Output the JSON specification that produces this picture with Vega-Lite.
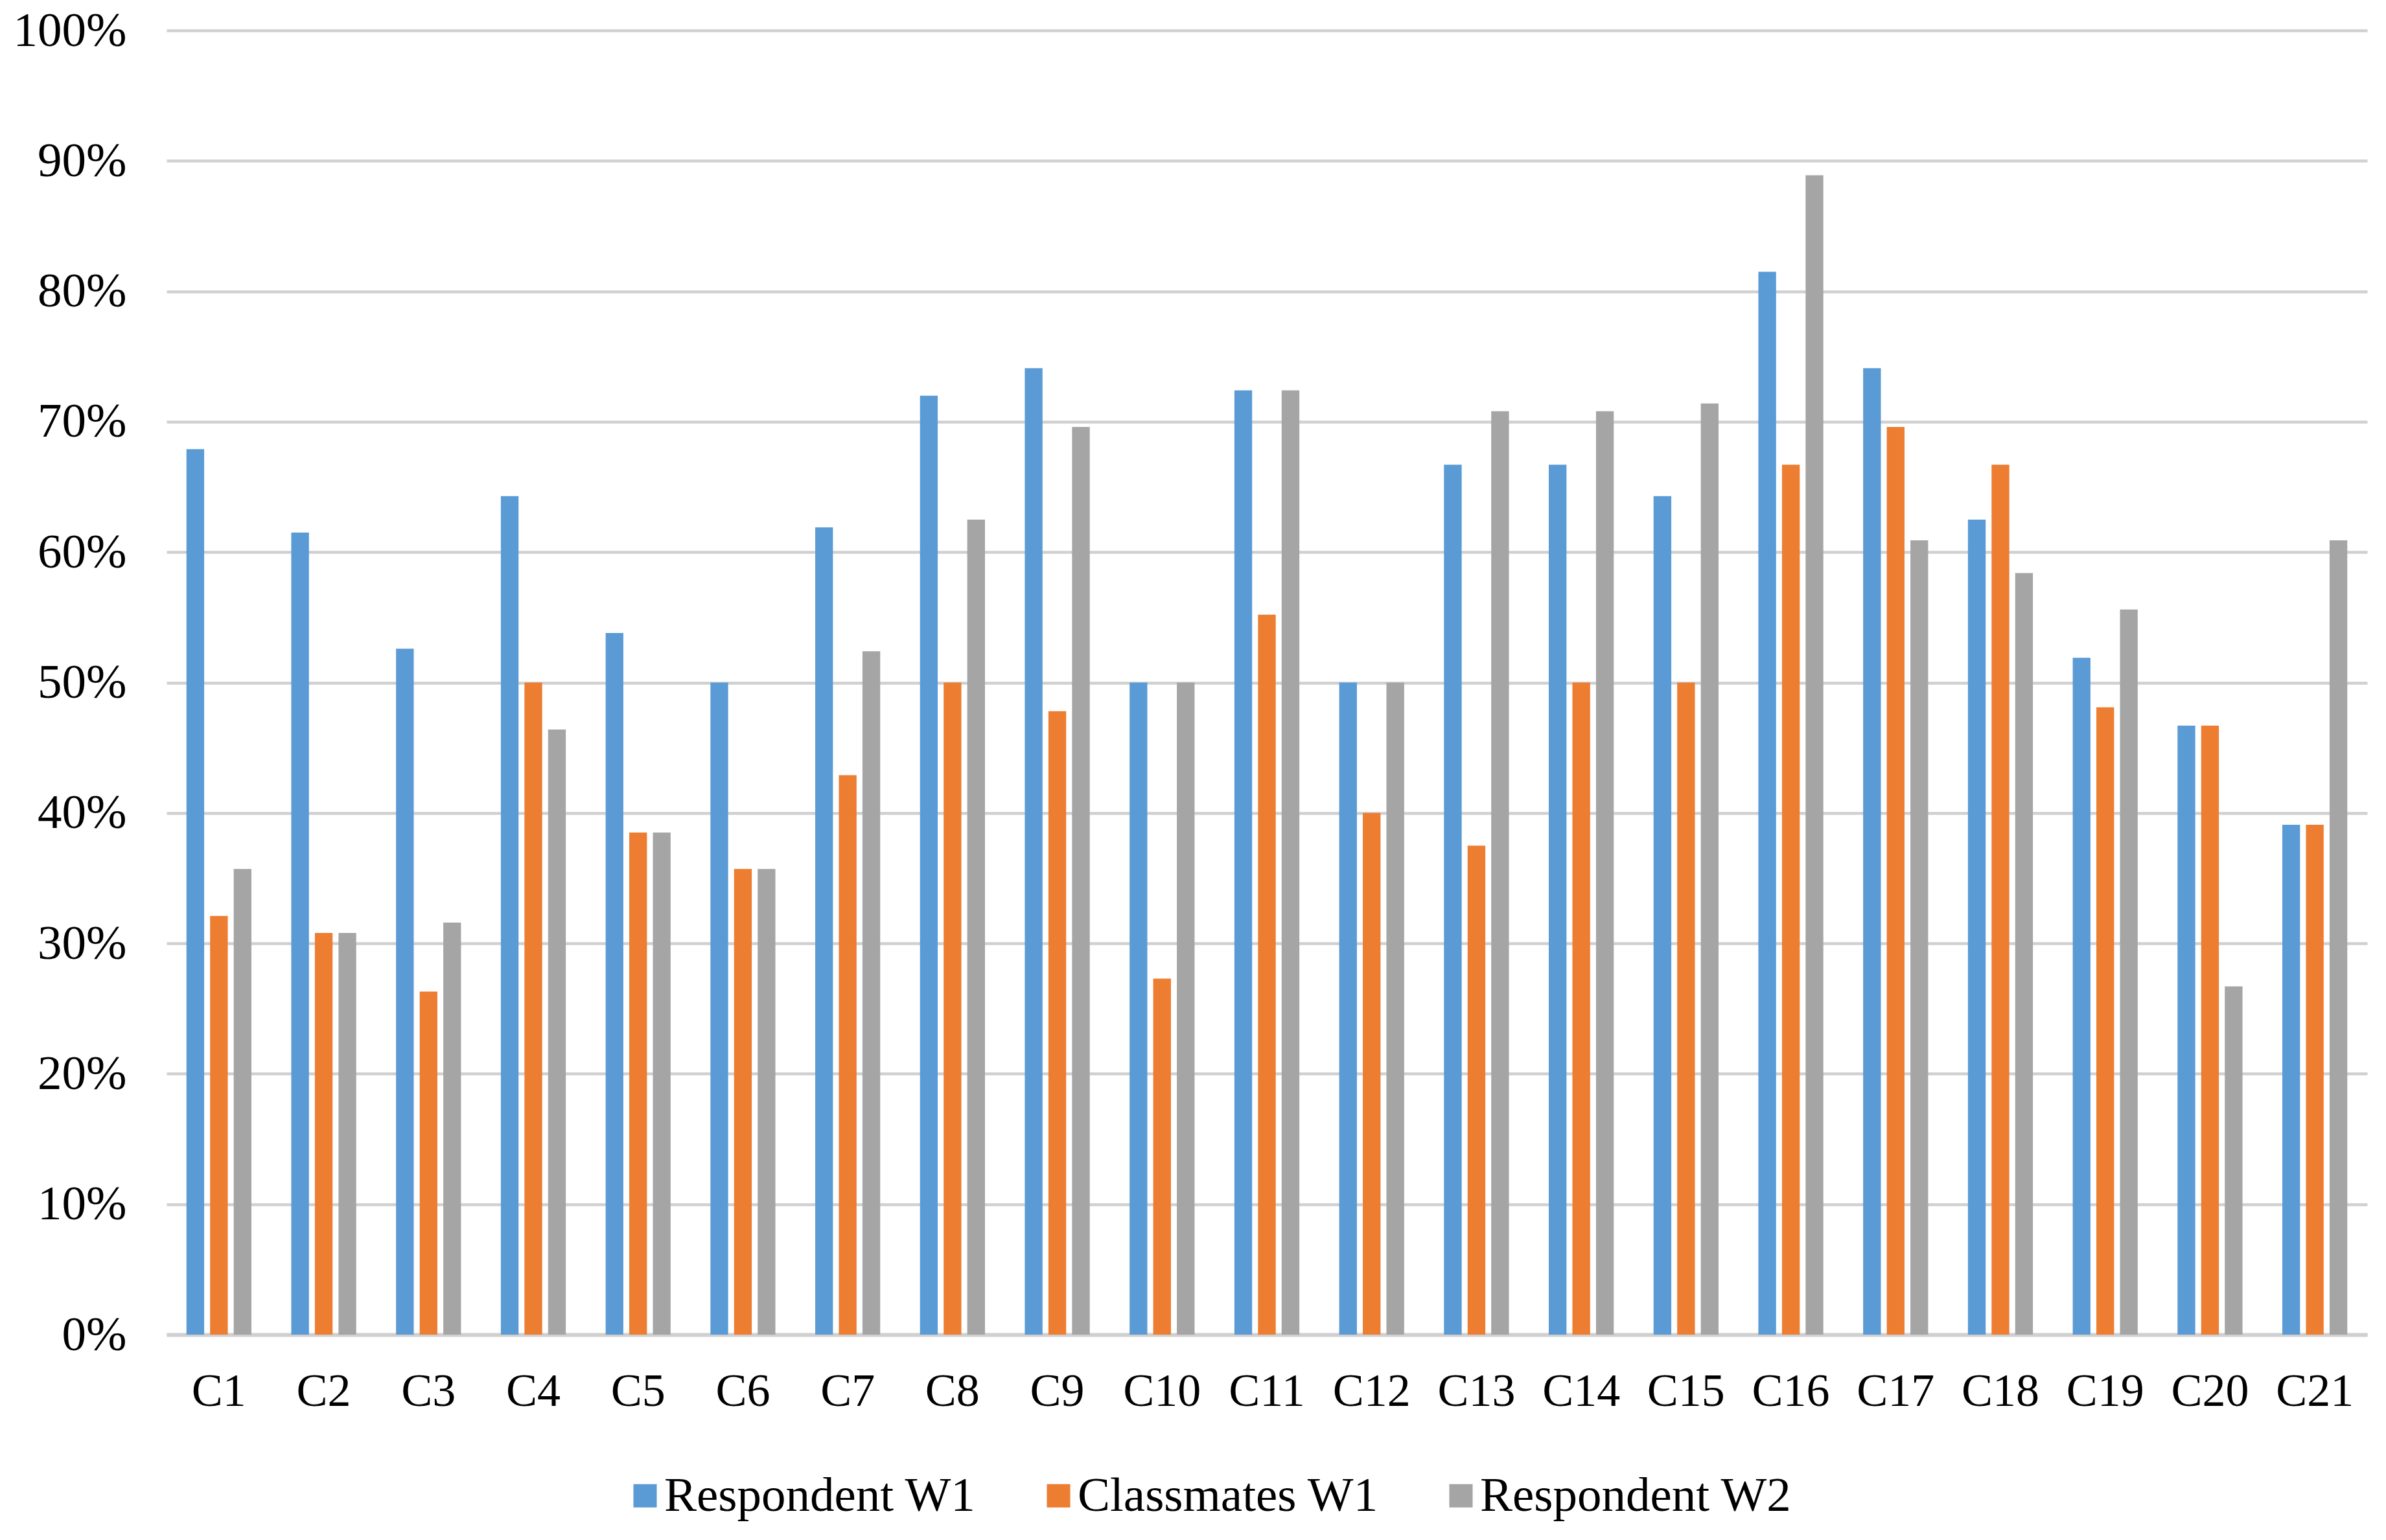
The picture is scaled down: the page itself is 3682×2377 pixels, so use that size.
{
  "$schema": "https://vega.github.io/schema/vega-lite/v6.json",
  "width": 3396,
  "height": 2013,
  "autosize": {"type": "none"},
  "padding": {"left": 257, "top": 47, "right": 29, "bottom": 317},
  "background": "white",
  "config": {
    "view": {"stroke": null},
    "font": "Liberation Serif",
    "axis": {"labelFont": "Liberation Serif", "labelColor": "#000000", "labelFontSize": 72},
    "legend": {"labelFont": "Liberation Serif", "labelColor": "#000000", "labelFontSize": 75, "labelLimit": 2000}
  },
  "data": {
    "values": [
      {"code": "C1", "series": "Respondent W1", "share": 0.679},
      {"code": "C1", "series": "Classmates W1", "share": 0.321},
      {"code": "C1", "series": "Respondent W2", "share": 0.357},
      {"code": "C2", "series": "Respondent W1", "share": 0.615},
      {"code": "C2", "series": "Classmates W1", "share": 0.308},
      {"code": "C2", "series": "Respondent W2", "share": 0.308},
      {"code": "C3", "series": "Respondent W1", "share": 0.526},
      {"code": "C3", "series": "Classmates W1", "share": 0.263},
      {"code": "C3", "series": "Respondent W2", "share": 0.316},
      {"code": "C4", "series": "Respondent W1", "share": 0.643},
      {"code": "C4", "series": "Classmates W1", "share": 0.500},
      {"code": "C4", "series": "Respondent W2", "share": 0.464},
      {"code": "C5", "series": "Respondent W1", "share": 0.538},
      {"code": "C5", "series": "Classmates W1", "share": 0.385},
      {"code": "C5", "series": "Respondent W2", "share": 0.385},
      {"code": "C6", "series": "Respondent W1", "share": 0.500},
      {"code": "C6", "series": "Classmates W1", "share": 0.357},
      {"code": "C6", "series": "Respondent W2", "share": 0.357},
      {"code": "C7", "series": "Respondent W1", "share": 0.619},
      {"code": "C7", "series": "Classmates W1", "share": 0.429},
      {"code": "C7", "series": "Respondent W2", "share": 0.524},
      {"code": "C8", "series": "Respondent W1", "share": 0.720},
      {"code": "C8", "series": "Classmates W1", "share": 0.500},
      {"code": "C8", "series": "Respondent W2", "share": 0.625},
      {"code": "C9", "series": "Respondent W1", "share": 0.741},
      {"code": "C9", "series": "Classmates W1", "share": 0.478},
      {"code": "C9", "series": "Respondent W2", "share": 0.696},
      {"code": "C10", "series": "Respondent W1", "share": 0.500},
      {"code": "C10", "series": "Classmates W1", "share": 0.273},
      {"code": "C10", "series": "Respondent W2", "share": 0.500},
      {"code": "C11", "series": "Respondent W1", "share": 0.724},
      {"code": "C11", "series": "Classmates W1", "share": 0.552},
      {"code": "C11", "series": "Respondent W2", "share": 0.724},
      {"code": "C12", "series": "Respondent W1", "share": 0.500},
      {"code": "C12", "series": "Classmates W1", "share": 0.400},
      {"code": "C12", "series": "Respondent W2", "share": 0.500},
      {"code": "C13", "series": "Respondent W1", "share": 0.667},
      {"code": "C13", "series": "Classmates W1", "share": 0.375},
      {"code": "C13", "series": "Respondent W2", "share": 0.708},
      {"code": "C14", "series": "Respondent W1", "share": 0.667},
      {"code": "C14", "series": "Classmates W1", "share": 0.500},
      {"code": "C14", "series": "Respondent W2", "share": 0.708},
      {"code": "C15", "series": "Respondent W1", "share": 0.643},
      {"code": "C15", "series": "Classmates W1", "share": 0.500},
      {"code": "C15", "series": "Respondent W2", "share": 0.714},
      {"code": "C16", "series": "Respondent W1", "share": 0.815},
      {"code": "C16", "series": "Classmates W1", "share": 0.667},
      {"code": "C16", "series": "Respondent W2", "share": 0.889},
      {"code": "C17", "series": "Respondent W1", "share": 0.741},
      {"code": "C17", "series": "Classmates W1", "share": 0.696},
      {"code": "C17", "series": "Respondent W2", "share": 0.609},
      {"code": "C18", "series": "Respondent W1", "share": 0.625},
      {"code": "C18", "series": "Classmates W1", "share": 0.667},
      {"code": "C18", "series": "Respondent W2", "share": 0.584},
      {"code": "C19", "series": "Respondent W1", "share": 0.519},
      {"code": "C19", "series": "Classmates W1", "share": 0.481},
      {"code": "C19", "series": "Respondent W2", "share": 0.556},
      {"code": "C20", "series": "Respondent W1", "share": 0.467},
      {"code": "C20", "series": "Classmates W1", "share": 0.467},
      {"code": "C20", "series": "Respondent W2", "share": 0.267},
      {"code": "C21", "series": "Respondent W1", "share": 0.391},
      {"code": "C21", "series": "Classmates W1", "share": 0.391},
      {"code": "C21", "series": "Respondent W2", "share": 0.609}
    ]
  },
  "mark": {"type": "bar"},
  "encoding": {
    "x": {
      "field": "code",
      "type": "nominal",
      "sort": null,
      "title": null,
      "scale": {"paddingInner": 0.38, "paddingOuter": 0.19},
      "axis": {
        "labelAngle": 0,
        "ticks": false,
        "labelPadding": 52,
        "domainColor": "#d0d0d0",
        "domainWidth": 6
      }
    },
    "xOffset": {
      "field": "series",
      "type": "nominal",
      "sort": ["Respondent W1", "Classmates W1", "Respondent W2"],
      "scale": {"paddingInner": 0.25}
    },
    "y": {
      "field": "share",
      "type": "quantitative",
      "title": null,
      "scale": {"domain": [0, 1], "nice": false},
      "axis": {
        "values": [0, 0.1, 0.2, 0.3, 0.4, 0.5, 0.6, 0.7, 0.8, 0.9, 1],
        "format": ".0%",
        "domain": false,
        "ticks": false,
        "labelFontSize": 75,
        "labelPadding": 62,
        "gridColor": "#d0d0d0",
        "gridWidth": 4.5
      }
    },
    "color": {
      "field": "series",
      "type": "nominal",
      "scale": {
        "domain": ["Respondent W1", "Classmates W1", "Respondent W2"],
        "range": ["#5b9bd5", "#ed7d31", "#a5a5a5"]
      },
      "legend": {
        "title": null,
        "orient": "none",
        "direction": "horizontal",
        "legendX": 701,
        "legendY": 2224,
        "symbolType": "square",
        "symbolSize": 1300,
        "symbolStrokeWidth": 0,
        "labelOffset": -8,
        "columnPadding": 89
      }
    }
  }
}
